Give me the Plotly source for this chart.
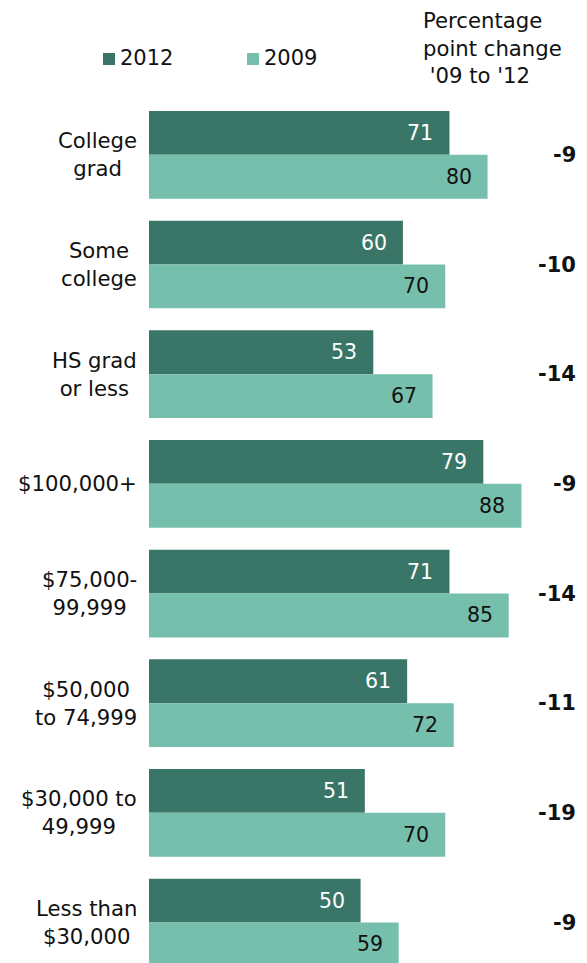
import plotly.graph_objects as go

categories = ["College<br>grad", "Some<br>college", "HS grad<br>or less", "$100,000+",
              "$75,000-<br>99,999", "$50,000<br>to 74,999", "$30,000 to<br>49,999",
              "Less than<br>$30,000"]
values_2012 = [71, 60, 53, 79, 71, 61, 51, 50]
values_2009 = [80, 70, 67, 88, 85, 72, 70, 59]
changes = ["-9", "-10", "-14", "-9", "-14", "-11", "-19", "-9"]
series_names = ["2012", "2009"]
colors = ["#3a7667", "#76bfad"]

W, H = 587, 963
ML, MT = 149, 100
PW, PH = W - ML, H - MT
FONT = "DejaVu Sans"

def px_x(p):
    return (p - ML) / PW

def px_y(p):
    return (H - p) / PH

idx = list(range(len(categories)))
fig = go.Figure()
for name, vals, col in zip(series_names, [values_2012, values_2009], colors):
    fig.add_trace(go.Bar(y=idx, x=vals, name=name, orientation="h",
                         marker=dict(color=col, line=dict(width=0)),
                         showlegend=False, hoverinfo="skip"))

ann = []
# value labels
for k, (vals, tcol) in enumerate([(values_2012, "white"), (values_2009, "#111111")]):
    off = -0.2 if k == 0 else 0.2
    for i, v in enumerate(vals):
        ann.append(dict(x=v, y=i + off, xref="x", yref="y", text=str(v), showarrow=False,
                        xanchor="right", yanchor="middle", xshift=-14,
                        font=dict(family=FONT, size=20.5, color=tcol)))
# category labels
for i, c in enumerate(categories):
    ann.append(dict(x=0, y=i, xref="paper", yref="y", text=c, showarrow=False,
                    xanchor="right", yanchor="middle", align="center", xshift=-10,
                    font=dict(family=FONT, size=21.2, color="#111111")))
# change labels
for i, c in enumerate(changes):
    ann.append(dict(x=1, y=i, xref="paper", yref="y", text="<b>%s</b>" % c, showarrow=False,
                    xanchor="right", yanchor="middle", xshift=-9,
                    font=dict(family=FONT, size=21, color="#111111")))
# header
ann.append(dict(x=px_x(421), y=px_y(48), xref="paper", yref="paper",
                text="Percentage<br>point change<br>&nbsp;'09 to '12", showarrow=False,
                xanchor="left", yanchor="middle", align="left",
                font=dict(family=FONT, size=21.2, color="#111111")))
# legend
shapes = []
leg_pos = [(103, 120), (247, 264)]
for name, col, (sx, tx) in zip(series_names, colors, leg_pos):
    shapes.append(dict(type="rect", xref="paper", yref="paper",
                       x0=px_x(sx), x1=px_x(sx + 12), y0=px_y(65), y1=px_y(53),
                       fillcolor=col, line=dict(width=0)))
    ann.append(dict(x=px_x(tx - 2), y=px_y(58.5), xref="paper", yref="paper", text=name,
                    showarrow=False, xanchor="left", yanchor="middle",
                    font=dict(family=FONT, size=21, color="#111111")))

fig.update_layout(
    width=W, height=H, margin=dict(l=ML, r=0, t=MT, b=0),
    barmode="group", bargap=0.2, bargroupgap=0,
    plot_bgcolor="white", paper_bgcolor="white",
    xaxis=dict(range=[0, PW / 4.232], visible=False, fixedrange=True),
    yaxis=dict(range=[7.369, -0.5], visible=False, fixedrange=True),
    annotations=ann, shapes=shapes,
)
fig.write_html("out.html")
